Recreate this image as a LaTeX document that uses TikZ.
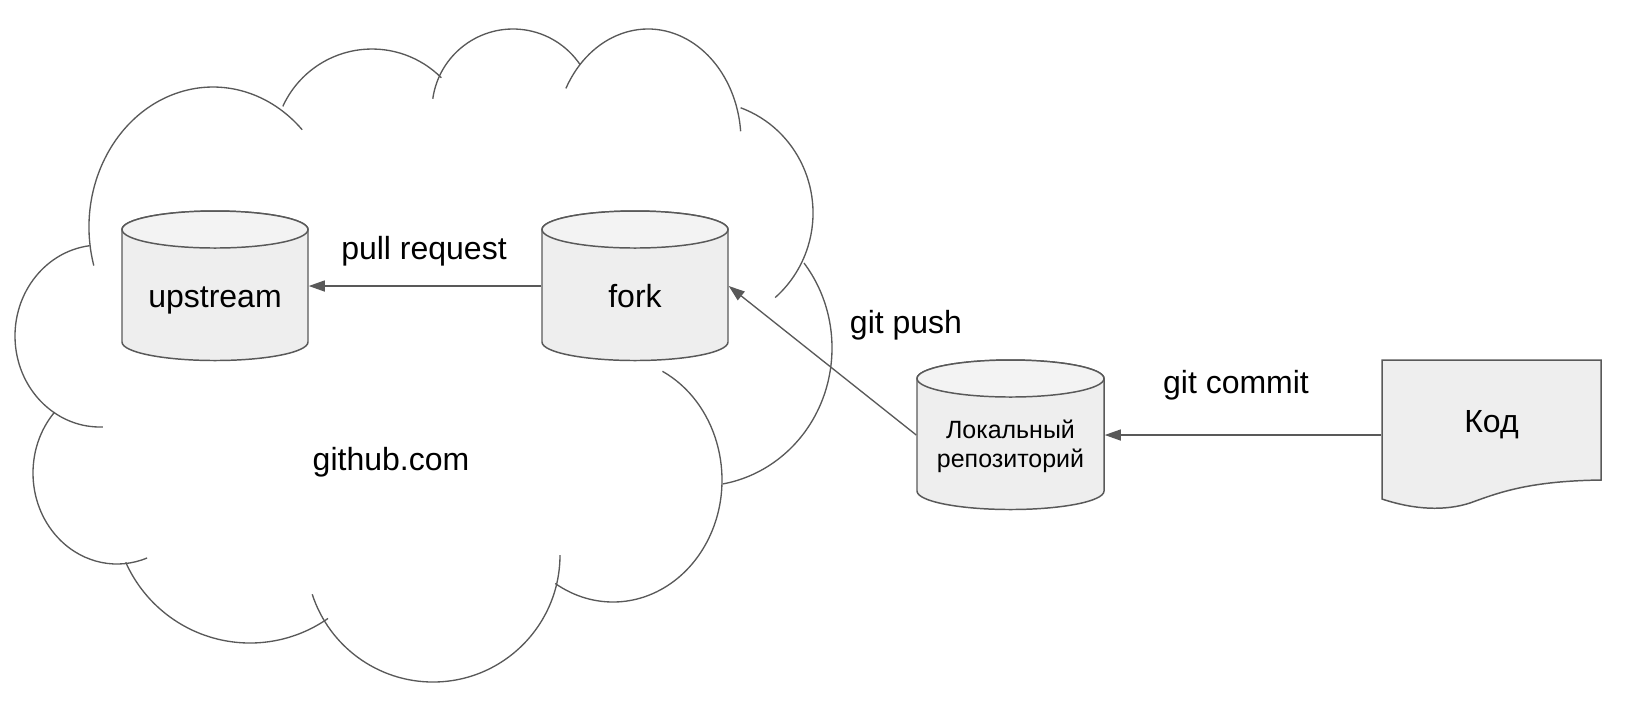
\documentclass[tikz,border=0pt]{standalone}
\usepackage{fontspec}
\setmainfont{Liberation Sans}
\usetikzlibrary{arrows.meta}
\definecolor{lc}{HTML}{595959}
\definecolor{bodyfill}{HTML}{EEEEEE}
\definecolor{capfill}{HTML}{F3F3F3}
\tikzset{
  shapeline/.style={draw=lc, line width=0.42pt},
  cloudline/.style={draw=lc, line width=0.38pt},
  arr/.style={draw=lc, line width=0.38pt, -{Triangle[length=0.16cm,width=0.11cm]}},
  lbl/.style={font=\fontsize{9.1pt}{10.9pt}\selectfont, inner sep=0pt},
  cylbox/.style={inner sep=0pt, minimum height=1.1cm, font=\fontsize{9.1pt}{10.9pt}\selectfont, text height=0.44cm, text depth=0.02cm},
}
\newcommand{\dbcyl}[5]{%
  \filldraw[shapeline, fill=bodyfill] (#1-#4,#2) -- (#1-#4,#3) arc[start angle=180,end angle=0,x radius=#4,y radius=#5] -- (#1+#4,#2) arc[start angle=0,end angle=-180,x radius=#4,y radius=#5] -- cycle;
  \filldraw[shapeline, fill=capfill] (#1,#2) ellipse[x radius=#4, y radius=#5];}
\newcommand{\cloudarc}[6]{%
  \draw[cloudline] (#1,#2) ++({#3*cos(#5)},{#4*sin(#5)}) arc[start angle=#5, end angle=#6, x radius=#3, y radius=#4];}
\begin{document}
\begin{tikzpicture}[x=0.01cm, y=-0.01cm]
\useasboundingbox (0,0) rectangle (1630,714);
% cloud
\cloudarc{213}{227}{124}{140}{164}{316}
\cloudarc{372}{147}{98}{98}{204.5}{315}
\cloudarc{513}{110}{81}{81}{188}{326}
\cloudarc{648}{141}{93}{112}{208}{355}
\cloudarc{703}{213}{110}{112}{290}{409}
\cloudarc{700}{348}{132}{138}{322}{440}
\cloudarc{613}{480}{109}{122}{297}{482}
\cloudarc{433}{555}{127}{127}{0}{162}
\cloudarc{250}{507}{136}{136}{156}{55}
\cloudarc{117}{473}{84}{91}{222}{69}
\cloudarc{100}{336}{85}{91}{263}{88}
\node[lbl, anchor=base] (gh) at (391,470) {github.com};
% cylinders
\dbcyl{215}{229.5}{342}{93}{18.5}
\dbcyl{635}{229.5}{342}{93}{18.5}
\dbcyl{1010.5}{378.5}{491}{93.5}{18.5}
\node[cylbox, minimum width=1.86cm] (upstream) at (215,286) {upstream};
\node[cylbox, minimum width=1.86cm] (fork) at (635,286) {fork};
\node[inner sep=0pt, minimum width=1.87cm, minimum height=1.1cm, text height=0.3cm, text depth=0.24cm,
      font=\fontsize{7.1pt}{8.25pt}\selectfont] (local) at (1010.5,435)
      {\begin{tabular}[t]{@{}c@{}}Локальный\\репозиторий\end{tabular}};
% document shape
\filldraw[shapeline, fill=bodyfill] (1382,360) -- (1601,360) -- (1601,480)
  .. controls (1530,481) and (1500,492) .. (1470,503)
  .. controls (1445,511) and (1415,510) .. (1382,499) -- cycle;
\node[inner sep=0pt, minimum width=2.19cm, minimum height=1.2cm, text height=0.2cm, text depth=0.26cm,
      font=\fontsize{9.1pt}{10.9pt}\selectfont] (code) at (1491.5,435) {Код};
% connectors
\draw[arr] (fork.west) -- (upstream.east);
\draw[arr] (local.west) -- (fork.east);
\draw[arr] (code.west) -- (local.east);
% labels
\node[lbl, anchor=base] (prl) at (424,259) {pull request};
\node[lbl, anchor=base] (gpl) at (906,333) {git push};
\node[lbl, anchor=base] (gcl) at (1236,393) {git commit};
\end{tikzpicture}
\end{document}
